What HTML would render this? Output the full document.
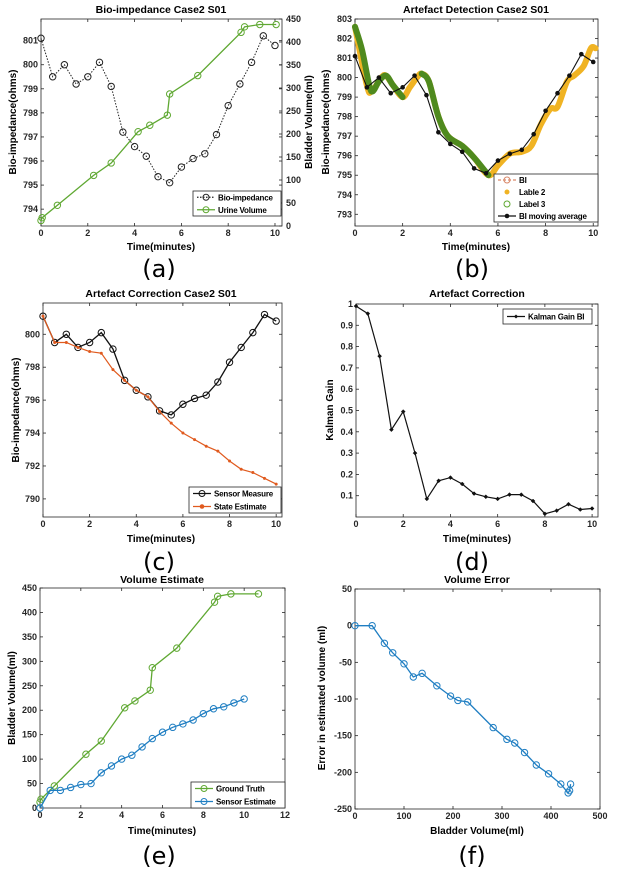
<!DOCTYPE html>
<html><head><meta charset="utf-8">
<style>
html,body{margin:0;padding:0;background:#fff;}
svg{display:block;font-family:"Liberation Sans",Arial,sans-serif;}
.tk{font-size:9px;font-weight:bold;fill:#262626;}
.ti{font-size:10.5px;font-weight:bold;fill:#000;}
.lb{font-size:10px;font-weight:bold;fill:#000;}
.lg{font-size:8px;font-weight:bold;fill:#000;letter-spacing:-0.2px;}
.pl{font-size:24px;font-family:"DejaVu Sans",sans-serif;fill:#000;}
</style></head>
<body>
<svg id="fig" width="630" height="872" viewBox="0 0 630 872"></svg>
<script>
// ---- Data ----
const tHalf = [0,0.5,1,1.5,2,2.5,3,3.5,4,4.5,5,5.5,6,6.5,7,7.5,8,8.5,9,9.5,10];
const bioImpedance = [801.1,799.5,800,799.2,799.5,800.1,799.1,797.2,796.6,796.2,795.35,795.1,795.75,796.1,796.3,797.1,798.3,799.2,800.1,801.2,800.8];
const urineTime = [0,0.05,0.7,2.25,3,4.15,4.65,5.4,5.5,6.7,8.55,8.7,9.35,10.05];
const urineVolume = [12,18,45,110,137,205,219,241,287,327,421,433,438,438];
const gtTime = [0,0.05,0.7,2.25,3,4.15,4.65,5.4,5.5,6.7,8.55,8.7,9.35,10.7];
const gtVolume = [12,18,45,110,137,205,219,241,287,327,421,433,438,438];
const sensorVolume = [0,36,36,42,48,50,72,86,100,108,125,142,155,165,172,180,193,203,207,215,223];
const stateEstimate = [801.1,799.5,799.5,799.2,798.95,798.85,797.85,797.2,796.6,796.2,795.3,794.6,794.0,793.6,793.2,792.9,792.3,791.8,791.6,791.25,790.9];
const kalmanGain = [0.99,0.955,0.755,0.41,0.495,0.30,0.085,0.17,0.185,0.155,0.11,0.095,0.085,0.105,0.105,0.075,0.015,0.03,0.06,0.035,0.04];
const label2T = [0,0.5,0.7,1.1,1.3,1.6,2,2.3,2.6,2.8,3.1,3.5,3.9,4.5,5,5.6,6,6.5,7,7.4,7.8,8.2,8.5,8.9,9.2,9.6,9.9,10.1];
const label2V = [802.6,799.6,799.3,800,800.1,799.6,799,799.5,800,800.2,799.8,798,797,796.5,795.9,795,795.5,796.1,796.2,796.5,797.6,798.4,798.5,799.8,800.1,800.6,801.5,801.5];
const label3aT = [0,0.3,0.6,0.75,1,1.3,1.6,2];
const label3aV = [802.6,801.4,799.6,799.3,799.8,800.1,799.6,799.0];
const label3bT = [2.8,3.1,3.5,3.9,4.5,5,5.6];
const label3bV = [800.2,799.8,798,797,796.5,795.9,795];
const errVolume = [0,35,60,77,100,119,137,167,195,210,230,282,310,326,346,370,395,420,435,438,440];
const errValue = [0,0,-24,-37,-52,-70,-65,-82,-96,-102,-104,-139,-155,-160,-173,-190,-202,-216,-228,-225,-216];
const ticks0to10 = [0,2,4,6,8,10];

const NS="http://www.w3.org/2000/svg";
const fig=document.getElementById('fig');
function mk(tag,attrs,parent){const e=document.createElementNS(NS,tag);for(const k in attrs)e.setAttribute(k,attrs[k]);(parent||fig).appendChild(e);return e;}
function txt(s,x,y,cls,parent,anchor,rot){const e=mk('text',{x:x,y:y,class:cls,'text-anchor':anchor||'middle'},parent);if(rot)e.setAttribute('transform','rotate(-90 '+x+' '+y+')');e.textContent=s;return e;}

function axes(name,L,R,T,B,xl,yl){
  const g=mk('g',{});
  
  
  const sx=v=>L+(v-xl[0])/(xl[1]-xl[0])*(R-L);
  const sy=v=>B-(v-yl[0])/(yl[1]-yl[0])*(B-T);
  const box=mk('rect',{x:L,y:T,width:R-L,height:B-T,fill:'#fff',stroke:'#262626','stroke-width':0.8},g);
  
  
  return {g,sx,sy,L,R,T,B};
}
function xticks(ax,vals,labels){
  vals.forEach((v,i)=>{const x=ax.sx(v);
    mk('line',{x1:x,y1:ax.B,x2:x,y2:ax.B-3,stroke:'#262626','stroke-width':0.8},ax.g);
    mk('line',{x1:x,y1:ax.T,x2:x,y2:ax.T+3,stroke:'#262626','stroke-width':0.8},ax.g);
    const t=txt(labels?labels[i]:String(v),x,ax.B+10,'tk',ax.g);
    
    
  });
}
function yticks(ax,vals,labels,right,sy){
  const f=sy||ax.sy;
  vals.forEach((v,i)=>{const y=f(v);
    if(!right){mk('line',{x1:ax.L,y1:y,x2:ax.L+3,y2:y,stroke:'#262626','stroke-width':0.8},ax.g);
      if(!sy) mk('line',{x1:ax.R,y1:y,x2:ax.R-3,y2:y,stroke:'#262626','stroke-width':0.8},ax.g);}
    else mk('line',{x1:ax.R,y1:y,x2:ax.R-3,y2:y,stroke:'#262626','stroke-width':0.8},ax.g);
    const t=right?txt(labels?labels[i]:String(v),ax.R+4,y+3,'tk',ax.g,'start'):txt(labels?labels[i]:String(v),ax.L-3,y+3,'tk',ax.g,'end');
    
    
  });
}
function path(ax,xs,ys,attrs,name,sy){
  const f=sy||ax.sy;
  const d=xs.map((x,i)=>(i?'L':'M')+ax.sx(x).toFixed(1)+','+f(ys[i]).toFixed(1)).join('');
  const p=mk('path',Object.assign({d:d,fill:'none'},attrs),ax.g);
  
  
  return p;
}
function smooth(ax,xs,ys,attrs,name){
  const P=xs.map((x,i)=>[ax.sx(x),ax.sy(ys[i])]);
  let d='M'+P[0][0]+','+P[0][1];
  for(let i=0;i<P.length-1;i++){
    const p0=P[i-1]||P[i],p1=P[i],p2=P[i+1],p3=P[i+2]||P[i+1];
    const c1=[p1[0]+(p2[0]-p0[0])/6,p1[1]+(p2[1]-p0[1])/6],c2=[p2[0]-(p3[0]-p1[0])/6,p2[1]-(p3[1]-p1[1])/6];
    d+='C'+c1[0].toFixed(1)+','+c1[1].toFixed(1)+' '+c2[0].toFixed(1)+','+c2[1].toFixed(1)+' '+p2[0].toFixed(1)+','+p2[1].toFixed(1);
  }
  const p=mk('path',Object.assign({d:d,fill:'none','stroke-linecap':'round','stroke-linejoin':'round'},attrs),ax.g);
  
  
}
function markers(ax,xs,ys,kind,color,name,sy){
  const f=sy||ax.sy;
  xs.forEach((x,i)=>{const cx=ax.sx(x),cy=f(ys[i]);let m;
    if(kind==='o') m=mk('circle',{cx:cx,cy:cy,r:3.2,fill:'none',stroke:color,'stroke-width':1},ax.g);
    else if(kind==='dot') m=mk('circle',{cx:cx,cy:cy,r:2.3,fill:color},ax.g);
    else if(kind==='star') m=mk('circle',{cx:cx,cy:cy,r:1.5,fill:color},ax.g);
    else m=mk('path',{d:`M${cx-2},${cy}L${cx},${cy-2}L${cx+2},${cy}L${cx},${cy+2}Z`,fill:color,stroke:color,'stroke-width':0.5},ax.g);
    
    
  });
}
function legend(name,x,y,w,h,entries){
  const g=mk('g',{});
  
  
  mk('rect',{x:x,y:y,width:w,height:h,fill:'#fff',stroke:'#262626','stroke-width':0.8},g);
  const step=h/entries.length;
  entries.forEach((e,i)=>{const cy=y+step*(i+0.5);
    const l=mk('line',{x1:x+4,y1:cy,x2:x+22,y2:cy,stroke:e.c,'stroke-width':e.w||1.2},g);
    if(e.dash) l.setAttribute('stroke-dasharray',e.dash);
    if(e.noline) l.setAttribute('stroke','none');
    if(e.m==='o') mk('circle',{cx:x+13,cy:cy,r:3,fill:'none',stroke:e.mc||e.c,'stroke-width':1},g);
    if(e.m==='dot') mk('circle',{cx:x+13,cy:cy,r:2.3,fill:e.mc||e.c},g);
    if(e.m==='big') mk('circle',{cx:x+13,cy:cy,r:2.5,fill:e.mc},g);
    if(e.m==='d') mk('path',{d:`M${x+11},${cy}L${x+13},${cy-2}L${x+15},${cy}L${x+13},${cy+2}Z`,fill:e.c},g);
    const t=txt(e.t,x+25,cy+3,'lg',g,'start');
    
    
  });
}
function panelLabel(s,x,y){const t=txt(s,x,y,'pl');}

const GREEN='#5fa832',BLUE='#1f7ec2',ORANGE='#e05a1e',YELLOW='#f0b323',DKGREEN='#4f8a1e';

// ---- (a) ----
{const ax=axes('chart-bio-impedance',41,282,19,226,[0,10.3],[793.3,801.9]);
 const sy2=v=>226-v/450*(226-19);
 xticks(ax,ticks0to10);
 yticks(ax,[794,795,796,797,798,799,800,801]);
 yticks(ax,[0,50,100,150,200,250,300,350,400,450],null,true,sy2);
 path(ax,urineTime,urineVolume,{stroke:GREEN,'stroke-width':1.3},'urine-volume-line',sy2);
 markers(ax,urineTime,urineVolume,'o',GREEN,'urine-volume-point',sy2);
 path(ax,tHalf,bioImpedance,{stroke:'#222','stroke-width':1,'stroke-dasharray':'1.5,1.5'},'bio-impedance-line');
 markers(ax,tHalf,bioImpedance,'o','#222','bio-impedance-point');
 txt('Bio-impedance Case2 S01',161,13,'ti');
 txt('Time(minutes)',161,250,'lb');
 txt('Bio-impedance(ohms)',16,122,'lb',fig,'middle',true);
 txt('Bladder Volume(ml)',312,122,'lb',fig,'middle',true);
 legend('legend-a',193,191,88,25,[{t:'Bio-impedance',c:'#222',dash:'1.5,1.5',m:'o'},{t:'Urine Volume',c:GREEN,m:'o'}]);
}
// ---- (b) ----
{const ax=axes('chart-artefact-detection',355,598,19,226,[0,10.2],[792.4,803]);
 xticks(ax,ticks0to10);
 yticks(ax,[793,794,795,796,797,798,799,800,801,802,803]);
 smooth(ax,label2T,label2V,{stroke:YELLOW,'stroke-width':6},'label-2-curve');
 smooth(ax,label3aT,label3aV,{stroke:DKGREEN,'stroke-width':6},'label-3-curve-1');
 smooth(ax,label3bT,label3bV,{stroke:DKGREEN,'stroke-width':6},'label-3-curve-2');
 path(ax,tHalf,bioImpedance,{stroke:'#111','stroke-width':1.1},'bi-moving-average-line');
 markers(ax,tHalf,bioImpedance,'dot','#111','bi-moving-average-point');
 txt('Artefact Detection Case2 S01',476,13,'ti');
 txt('Time(minutes)',476,250,'lb');
 txt('Bio-impedance(ohms)',329,122,'lb',fig,'middle',true);
 legend('legend-b',494,174,104,48,[{t:'BI',c:'#d9896a',dash:'3,2',m:'o',mc:'#d9896a'},{t:'Lable 2',c:'none',noline:1,m:'big',mc:YELLOW},{t:'Label 3',c:'none',noline:1,m:'o',mc:GREEN},{t:'BI moving average',c:'#111',m:'dot'}]);
}
// ---- (c) ----
{const ax=axes('chart-artefact-correction',43,282,303,517,[0,10.25],[788.9,801.9]);
 xticks(ax,ticks0to10);
 yticks(ax,[790,792,794,796,798,800]);
 path(ax,tHalf,bioImpedance,{stroke:'#111','stroke-width':1.3},'sensor-measure-line');
 markers(ax,tHalf,bioImpedance,'o','#111','sensor-measure-point');
 path(ax,tHalf,stateEstimate,{stroke:ORANGE,'stroke-width':1.2},'state-estimate-line');
 markers(ax,tHalf,stateEstimate,'star',ORANGE,'state-estimate-point');
 txt('Artefact Correction Case2 S01',161,297,'ti');
 txt('Time(minutes)',161,542,'lb');
 txt('Bio-impedance(ohms)',19,410,'lb',fig,'middle',true);
 legend('legend-c',189,487,92,26,[{t:'Sensor Measure',c:'#111',m:'o'},{t:'State Estimate',c:ORANGE,m:'dot'}]);
}
// ---- (d) ----
{const ax=axes('chart-kalman-gain',356,598,304,517,[0,10.25],[0,1.0]);
 xticks(ax,ticks0to10);
 yticks(ax,[0.1,0.2,0.3,0.4,0.5,0.6,0.7,0.8,0.9,1],['0.1','0.2','0.3','0.4','0.5','0.6','0.7','0.8','0.9','1']);
 path(ax,tHalf,kalmanGain,{stroke:'#111','stroke-width':1.2},'kalman-gain-line');
 markers(ax,tHalf,kalmanGain,'d','#111','kalman-gain-point');
 txt('Artefact Correction',477,297,'ti');
 txt('Time(minutes)',477,542,'lb');
 txt('Kalman Gain',333,410,'lb',fig,'middle',true);
 legend('legend-d',503,309,89,15,[{t:'Kalman Gain BI',c:'#111',m:'d'}]);
}
// ---- (e) ----
{const ax=axes('chart-volume-estimate',40,285,588,808,[0,12],[0,450]);
 xticks(ax,[0,2,4,6,8,10,12]);
 yticks(ax,[0,50,100,150,200,250,300,350,400,450]);
 path(ax,gtTime,gtVolume,{stroke:GREEN,'stroke-width':1.3},'ground-truth-line');
 markers(ax,gtTime,gtVolume,'o',GREEN,'ground-truth-point');
 path(ax,tHalf,sensorVolume,{stroke:BLUE,'stroke-width':1.3},'sensor-estimate-line');
 markers(ax,tHalf,sensorVolume,'o',BLUE,'sensor-estimate-point');
 txt('Volume Estimate',162,583,'ti');
 txt('Time(minutes)',162,834,'lb');
 txt('Bladder Volume(ml)',15,698,'lb',fig,'middle',true);
 legend('legend-e',191,782,94,26,[{t:'Ground Truth',c:GREEN,m:'o'},{t:'Sensor Estimate',c:BLUE,m:'o'}]);
}
// ---- (f) ----
{const ax=axes('chart-volume-error',355,600,589,809,[0,500],[-250,50]);
 xticks(ax,[0,100,200,300,400,500]);
 yticks(ax,[-250,-200,-150,-100,-50,0,50]);
 path(ax,errVolume,errValue,{stroke:BLUE,'stroke-width':1.3},'volume-error-line');
 markers(ax,errVolume,errValue,'o',BLUE,'volume-error-point');
 txt('Volume Error',477,583,'ti');
 txt('Bladder Volume(ml)',477,834,'lb');
 txt('Error in estimated volume (ml)',325,698,'lb',fig,'middle',true);
}
panelLabel('(a)',159,277);
panelLabel('(b)',472,277);
panelLabel('(c)',159,570);
panelLabel('(d)',472,570);
panelLabel('(e)',159,864);
panelLabel('(f)',472,864);
</script>
</body></html>
